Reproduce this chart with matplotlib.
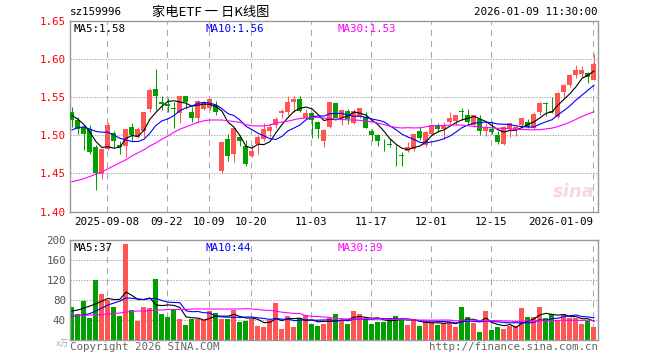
import numpy as np
import pandas as pd
import matplotlib
matplotlib.use('Agg')
import matplotlib.pyplot as plt

plt.rcParams['font.family'] = ['DejaVu Sans Mono', 'Noto Sans CJK SC']

# 日K数据 (2025-08-29 ~ 2026-01-09)
opens = [1.530, 1.520, 1.511, 1.508, 1.484, 1.449, 1.482, 1.503, 1.487, 1.486,
         1.511, 1.498, 1.505, 1.534, 1.561, 1.543, 1.541, 1.536, 1.529, 1.552,
         1.530, 1.522, 1.534, 1.536, 1.540, 1.453, 1.495, 1.475, 1.498, 1.486,
         1.473, 1.488, 1.495, 1.506, 1.513, 1.529, 1.531, 1.543, 1.548, 1.522,
         1.529, 1.517, 1.492, 1.511, 1.542, 1.523, 1.532, 1.516, 1.524, 1.524,
         1.505, 1.500, 1.4885, 1.4875, 1.4753, 1.4731, 1.479, 1.482, 1.5055, 1.487,
         1.501, 1.513, 1.508, 1.518, 1.519, 1.531, 1.527, 1.513, 1.521, 1.505,
         1.508, 1.500, 1.489, 1.508, 1.507, 1.513, 1.518, 1.510, 1.531, 1.5413,
         1.5313, 1.524, 1.557, 1.566, 1.579, 1.580, 1.582, 1.572]
highs = [1.537, 1.524, 1.513, 1.514, 1.487, 1.483, 1.518, 1.505, 1.492, 1.508,
         1.516, 1.511, 1.531, 1.562, 1.587, 1.551, 1.549, 1.544, 1.551, 1.552,
         1.537, 1.546, 1.545, 1.549, 1.545, 1.491, 1.501, 1.510, 1.500, 1.494,
         1.487, 1.500, 1.516, 1.516, 1.524, 1.535, 1.551, 1.551, 1.552, 1.535,
         1.531, 1.519, 1.508, 1.543, 1.542, 1.533, 1.535, 1.534, 1.536, 1.530,
         1.508, 1.502, 1.495, 1.496, 1.487, 1.478, 1.491, 1.502, 1.511, 1.506,
         1.514, 1.516, 1.518, 1.530, 1.527, 1.536, 1.534, 1.527, 1.527, 1.516,
         1.519, 1.506, 1.512, 1.516, 1.513, 1.523, 1.521, 1.530, 1.544, 1.544,
         1.550, 1.557, 1.567, 1.581, 1.592, 1.591, 1.583, 1.607]
lows = [1.511, 1.501, 1.481, 1.475, 1.428, 1.443, 1.481, 1.484, 1.476, 1.472,
        1.493, 1.496, 1.498, 1.531, 1.533, 1.533, 1.531, 1.509, 1.516, 1.535,
        1.518, 1.516, 1.533, 1.533, 1.527, 1.451, 1.466, 1.465, 1.486, 1.460,
        1.472, 1.475, 1.492, 1.498, 1.509, 1.523, 1.527, 1.531, 1.530, 1.521,
        1.496, 1.497, 1.485, 1.510, 1.522, 1.513, 1.515, 1.515, 1.522, 1.509,
        1.492, 1.486, 1.479, 1.484, 1.460, 1.460, 1.478, 1.479, 1.494, 1.484,
        1.500, 1.504, 1.495, 1.513, 1.514, 1.520, 1.514, 1.511, 1.500, 1.499,
        1.502, 1.489, 1.487, 1.498, 1.499, 1.510, 1.509, 1.508, 1.527, 1.525,
        1.5296, 1.523, 1.550, 1.563, 1.575, 1.575, 1.569, 1.572]
closes = [1.520, 1.508, 1.502, 1.478, 1.450, 1.482, 1.513, 1.492, 1.485, 1.508,
          1.500, 1.508, 1.531, 1.559, 1.552, 1.541, 1.539, 1.535, 1.551, 1.544,
          1.522, 1.545, 1.543, 1.548, 1.531, 1.491, 1.473, 1.510, 1.492, 1.462,
          1.479, 1.498, 1.508, 1.511, 1.521, 1.532, 1.544, 1.548, 1.532, 1.529,
          1.520, 1.508, 1.507, 1.543, 1.523, 1.533, 1.521, 1.532, 1.536, 1.510,
          1.500, 1.492, 1.488, 1.487, 1.4749, 1.4727, 1.484, 1.501, 1.497, 1.504,
          1.513, 1.508, 1.513, 1.522, 1.527, 1.5308, 1.518, 1.526, 1.505, 1.510,
          1.504, 1.491, 1.511, 1.516, 1.511, 1.522, 1.511, 1.528, 1.542, 1.5409,
          1.5309, 1.556, 1.566, 1.579, 1.586, 1.586, 1.577, 1.593]
volumes = [66, 53, 78, 45, 120, 93, 80, 66, 48, 192,
           60, 39, 66, 64, 122, 53, 46, 61, 42, 30,
           43, 43, 41, 59, 54, 42, 42, 60, 37, 39,
           42, 28, 27, 41, 75, 23, 48, 27, 45, 50,
           32, 28, 32, 45, 52, 41, 32, 58, 52, 43,
           32, 37, 37, 44, 48, 41, 30, 40, 28, 37,
           37, 30, 35, 35, 26, 66, 46, 34, 16, 58,
           20, 27, 22, 28, 28, 64, 46, 46, 66, 45,
           53, 39, 52, 45, 45, 32, 39, 26]

# 均线起始段(窗口之前的数据不在图里, 按图读取)
ma5_head = [1.526, 1.521, 1.514, 1.504]
ma10_head = [1.507, 1.510, 1.511, 1.508, 1.505, 1.504, 1.504, 1.500, 1.496]
ma30_head = [1.439, 1.441, 1.443, 1.446, 1.449, 1.452, 1.456, 1.460, 1.464, 1.468,
             1.473, 1.477, 1.481, 1.486, 1.490, 1.495, 1.499, 1.504, 1.508, 1.511,
             1.514, 1.517, 1.519, 1.520, 1.520, 1.520, 1.519, 1.518, 1.517]
vma5_head = [58, 60, 64, 68]
vma10_head = [48, 49, 50, 53, 58, 64, 70, 74, 78]
vma30_head = [48, 49, 49, 50, 50, 51, 52, 53, 54, 56, 57, 58, 58, 59, 60,
              60, 61, 61, 61, 61, 62, 62, 62, 62, 62, 62, 62, 62, 62]

date_ticks = [6, 16, 23, 30, 40, 50, 60, 70, 87]
date_labels = ['2025-09-08', '09-22', '10-09', '10-20', '11-03',
               '11-17', '12-01', '12-15', '2026-01-09']
price_ticks = [1.40, 1.45, 1.50, 1.55, 1.60, 1.65]
vol_ticks = [40, 80, 120, 160, 200]

RED = '#ff5555'
GREEN = '#00a000'
GRID = '#aaaaaa'
FRAME = '#999999'


def ma(values, n, head):
    s = pd.Series(values, dtype=float).rolling(n).mean()
    s.iloc[:n - 1] = head
    return s.values


W, H = 660, 360
fig = plt.figure(figsize=(6.6, 3.6), dpi=100)


def fx(px):
    return px / W


def fy(py):
    return 1 - py / H


ax = fig.add_axes([fx(70), fy(211.5), fx(528), 190.6 / H])
axv = fig.add_axes([fx(70), fy(340), fx(528), 100 / H])

n = len(closes)
x = np.arange(n)
o = np.array(opens)
c = np.array(closes)
up = c >= o
colors = [RED if u else GREEN for u in up]

for a in (ax, axv):
    a.set_xlim(-0.33, 87.67)
    for t in date_ticks:
        a.axvline(t - 0.2, color=GRID, lw=0.75, dashes=(5.8, 4.8), zorder=0)
    for s in a.spines.values():
        s.set_color(FRAME)
        s.set_linewidth(1.0)
    a.tick_params(length=0)

# K线
ax.vlines(x, lows, highs, colors=colors, lw=0.75, zorder=2)
body_bottom = np.minimum(o, c)
body_h = np.maximum(np.abs(c - o), 0.0009)
ax.bar(x, body_h, bottom=body_bottom, width=0.83, color=colors, lw=0, zorder=3)

ax.plot(x, ma(closes, 5, ma5_head), color='black', lw=0.8, zorder=4)
ax.plot(x, ma(closes, 10, ma10_head), color='#0000ff', lw=0.8, zorder=4)
ax.plot(x, ma(closes, 30, ma30_head), color='#ff00ff', lw=0.8, zorder=4)

ax.set_ylim(1.40, 1.65)
for p in price_ticks[1:-1]:
    ax.axhline(p, color=GRID, lw=0.75, dashes=(1.3, 1.3), zorder=0)
ax.set_yticks(price_ticks)
ax.set_yticklabels(['%.2f' % p for p in price_ticks], color='#ff0000', fontsize=7.8)
ax.tick_params(axis='y', pad=3)
ax.set_xticks([t - 0.2 for t in date_ticks])
ax.set_xticklabels(date_labels, fontsize=7.8)
ax.tick_params(axis='x', pad=4)
ax.get_xticklabels()[-1].set_ha('right')
ax.get_xticklabels()[-1].set_x(87.6)

ax.text(0.007, 0.985, 'MA5:1.58', transform=ax.transAxes, fontsize=7.8,
        color='black', va='top')
ax.text(0.256, 0.985, 'MA10:1.56', transform=ax.transAxes, fontsize=7.8,
        color='#0000ff', va='top')
ax.text(0.506, 0.985, 'MA30:1.53', transform=ax.transAxes, fontsize=7.8,
        color='#ff00ff', va='top')
ax.text(0.955, 0.1, 'sina', transform=ax.transAxes, fontsize=13,
        color='#f8d8d8', style='italic', weight='bold', ha='center', va='center',
        family='DejaVu Sans', zorder=1)

# 成交量
axv.bar(x, volumes, width=0.83, color=colors, lw=0, zorder=2)
axv.plot(x, ma(volumes, 5, vma5_head), color='black', lw=0.8, zorder=4)
axv.plot(x, ma(volumes, 10, vma10_head), color='#0000ff', lw=0.8, zorder=4)
axv.plot(x, ma(volumes, 30, vma30_head), color='#ff00ff', lw=0.8, zorder=4)
axv.set_ylim(0, 200)
for v in vol_ticks[:-1]:
    axv.axhline(v, color=GRID, lw=0.75, dashes=(1.3, 1.3), zorder=0)
axv.set_yticks(vol_ticks)
axv.set_yticklabels([str(v) for v in vol_ticks], color='#555555', fontsize=7.8)
axv.tick_params(axis='y', pad=3)
axv.set_xticks([])

axv.text(0.007, 0.97, 'MA5:37', transform=axv.transAxes, fontsize=7.8,
         color='black', va='top')
axv.text(0.256, 0.97, 'MA10:44', transform=axv.transAxes, fontsize=7.8,
         color='#0000ff', va='top')
axv.text(0.506, 0.97, 'MA30:39', transform=axv.transAxes, fontsize=7.8,
         color='#ff00ff', va='top')

# 标题和页脚
fig.text(fx(70), fy(12), 'sz159996', fontsize=7.8, va='center')
fig.text(fx(211), fy(12), '家电ETF 一 日K线图', fontsize=9.5, va='center',
         ha='center', family=['Noto Sans CJK SC', 'DejaVu Sans'])
fig.text(fx(598), fy(12), '2026-01-09 11:30:00', fontsize=7.8, va='center', ha='right')
fig.text(fx(70), fy(347), 'Copyright 2026 SINA.COM', fontsize=7.8, va='center',
         color='#666666')
fig.text(fx(598), fy(347), 'http://finance.sina.com.cn', fontsize=7.8, va='center',
         ha='right', color='#666666')
fig.text(fx(56), fy(343), 'x万', fontsize=6, va='center', color='#aaaaaa',
         family=['DejaVu Sans', 'Noto Sans CJK SC'])

fig.savefig('out.png', dpi=100)
